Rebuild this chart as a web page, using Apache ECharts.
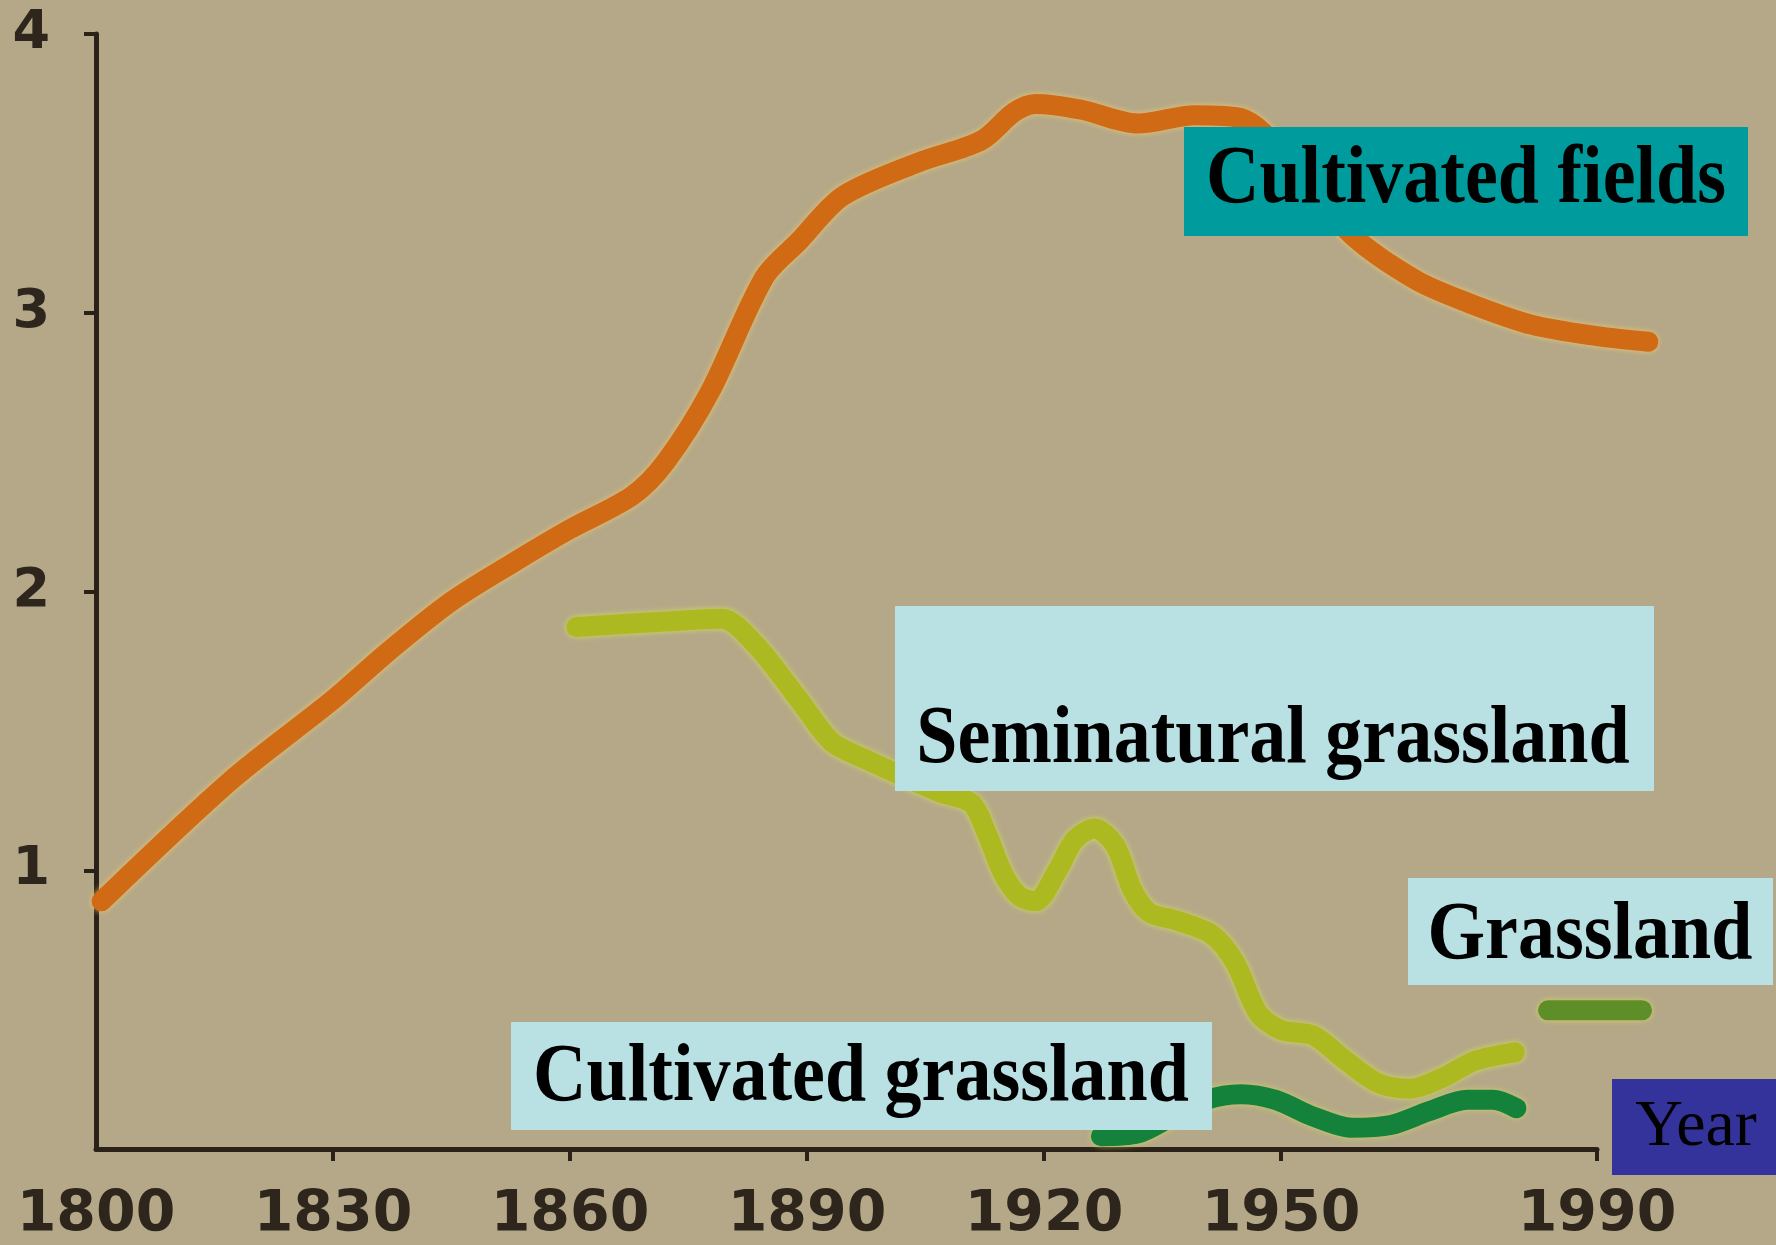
<!DOCTYPE html>
<html>
<head>
<meta charset="utf-8">
<script src="https://cdn.jsdelivr.net/npm/echarts@6/dist/echarts.min.js"></script>
<style>
html,body{margin:0;padding:0;background:#b4a888;}
#chart{width:1776px;height:1245px;}
</style>
</head>
<body>
<div id="chart"></div>
<script>
// Tick labels
var xTickYears = [1800, 1830, 1860, 1890, 1920, 1950, 1990];
var yTickValues = [1, 2, 3, 4];

// Cultivated fields
var fieldsYears = [1800.7, 1817, 1830, 1836.9, 1844.9, 1852.8, 1860, 1867.9, 1872.1, 1877.7, 1884.6, 1889, 1894.5, 1904, 1912.1, 1916.2, 1918.9, 1924.6, 1931.9, 1939.1, 1944.9, 1952.4, 1959, 1967.1, 1973.6, 1981.8, 1990, 1996.5];
var fieldsValues = [0.90, 1.33, 1.62, 1.79, 1.97, 2.11, 2.23, 2.35, 2.47, 2.72, 3.13, 3.26, 3.42, 3.54, 3.62, 3.72, 3.75, 3.73, 3.68, 3.71, 3.70, 3.50, 3.28, 3.12, 3.04, 2.96, 2.92, 2.90];

// Seminatural grassland
var seminaturalYears = [1860.8, 1872.1, 1879.2, 1883.4, 1889, 1893.1, 1897.2, 1906.7, 1910.8, 1912.8, 1914.8, 1916.8, 1918.9, 1921.7, 1923.9, 1926.4, 1929, 1931.2, 1933.3, 1936.9, 1941.3, 1944.2, 1947.1, 1950, 1954.1, 1958.2, 1962.3, 1966.4, 1970.5, 1974.6, 1979.6];
var seminaturalValues = [1.88, 1.90, 1.91, 1.82, 1.62, 1.47, 1.41, 1.29, 1.25, 1.14, 1.00, 0.92, 0.90, 1.01, 1.12, 1.16, 1.10, 0.94, 0.86, 0.83, 0.78, 0.68, 0.50, 0.44, 0.42, 0.33, 0.25, 0.23, 0.27, 0.33, 0.36];

// Cultivated grassland
var cultGrassYears = [1927.2, 1931.9, 1936.2, 1940.6, 1944.9, 1949.3, 1954.1, 1959, 1963.9, 1968.8, 1973.6, 1976.8, 1979.8];
var cultGrassValues = [0.06, 0.07, 0.13, 0.19, 0.21, 0.19, 0.13, 0.09, 0.10, 0.15, 0.19, 0.19, 0.16];

// Grassland
var grassYears = [1983.8, 1995.7];
var grassValues = [0.51, 0.51];

// Axis ranges
var xMin = 1800, xMaxAxis = 1990, xMaxData = 1998;

function pairs(xs, ys) {
  var out = [];
  for (var i = 0; i < xs.length; i++) out.push([xs[i], ys[i]]);
  return out;
}

var W = 1776, H = 1245;
var gridLeft = 96, gridRightAxis = 179, gridTop = 34, gridBottom = 92;
var pxPerYear = (W - gridLeft - gridRightAxis) / (xMaxAxis - xMin);
var gridRightData = W - gridLeft - pxPerYear * (xMaxData - xMin);

var chart = echarts.init(document.getElementById('chart'), null, {renderer: 'canvas'});

function lineSeries(name, xs, ys, color, halo) {
  return {
    name: name,
    type: 'line',
    xAxisIndex: 0,
    yAxisIndex: 0,
    data: pairs(xs, ys),
    smooth: 0.3,
    showSymbol: false,
    clip: false,
    lineStyle: {
      color: color,
      width: 20,
      cap: 'round',
      join: 'round',
      shadowColor: halo,
      shadowBlur: 6
    },
    z: 3
  };
}

function labelBox(x0, y0, x1, y1, fill, text, tx, ty, font, scaleY) {
  return [
    {type: 'rect', shape: {x: x0, y: y0, width: x1 - x0, height: y1 - y0}, style: {fill: fill}, z: 100},
    {type: 'text', x: tx, y: ty, scaleY: scaleY, z: 101,
      style: {text: text, x: 0, y: 0, fill: '#000', font: font, align: 'center', verticalAlign: 'middle'}}
  ];
}

var serifBold = 'bold 74px "Liberation Serif", "Times New Roman", serif';
var graphics = [].concat(
  labelBox(1184, 127, 1748, 236, '#009b9c', 'Cultivated fields', 1466, 181, serifBold, 1.12),
  labelBox(895, 606, 1654, 791, '#b9e0e3', 'Seminatural grassland', 1273, 741, serifBold, 1.12),
  labelBox(1408, 878, 1773, 985, '#b9e0e3', 'Grassland', 1590, 937, serifBold, 1.12),
  labelBox(511, 1022, 1212, 1130, '#b9e0e3', 'Cultivated grassland', 861, 1079, serifBold, 1.12),
  labelBox(1612, 1079, 1776, 1175, '#33339b', 'Year', 1696, 1128, '66px "Liberation Serif", "Times New Roman", serif', 1.0)
);

var axisColor = '#2a2118';
var labelFont = {
  color: '#2e261c',
  fontFamily: '"DejaVu Sans", "Liberation Sans", sans-serif',
  fontWeight: 'bold'
};

chart.setOption({
  animation: false,
  backgroundColor: '#b4a888',
  grid: [
    {left: gridLeft, right: gridRightData, top: gridTop, bottom: gridBottom, containLabel: false},
    {left: gridLeft, right: gridRightAxis, top: gridTop, bottom: gridBottom, containLabel: false}
  ],
  xAxis: [
    {
      gridIndex: 0, type: 'value', min: xMin, max: xMaxData,
      show: false, splitLine: {show: false}
    },
    {
      gridIndex: 1, type: 'value', min: xMin, max: xMaxAxis,
      splitLine: {show: false},
      axisLine: {show: true, lineStyle: {color: axisColor, width: 5}},
      axisTick: {show: true, customValues: xTickYears.slice(1), length: 12, lineStyle: {color: axisColor, width: 4}},
      axisLabel: Object.assign({
        customValues: xTickYears,
        margin: 39,
        fontSize: 57,
        formatter: function (v) { return String(v); }
      }, labelFont)
    }
  ],
  yAxis: [
    {gridIndex: 0, type: 'value', min: 0, max: 4, interval: 1, show: false, splitLine: {show: false}},
    {
      gridIndex: 1, type: 'value', min: 0, max: 4, interval: 1,
      splitLine: {show: false},
      axisLine: {show: true, lineStyle: {color: axisColor, width: 5}},
      axisTick: {show: true, customValues: yTickValues, length: 12, lineStyle: {color: axisColor, width: 4}},
      axisLabel: Object.assign({
        customValues: yTickValues,
        margin: 46,
        fontSize: 54
      }, labelFont)
    }
  ],
  series: [
    lineSeries('Cultivated fields', fieldsYears, fieldsValues, '#d06a14', 'rgba(245,200,110,0.85)'),
    lineSeries('Seminatural grassland', seminaturalYears, seminaturalValues, '#adb921', 'rgba(220,225,90,0.85)'),
    lineSeries('Cultivated grassland', cultGrassYears, cultGrassValues, '#14823a', 'rgba(210,215,100,0.8)'),
    lineSeries('Grassland', grassYears, grassValues, '#5e8e28', 'rgba(220,220,90,0.8)')
  ],
  graphic: {elements: graphics}
});
</script>
</body>
</html>
